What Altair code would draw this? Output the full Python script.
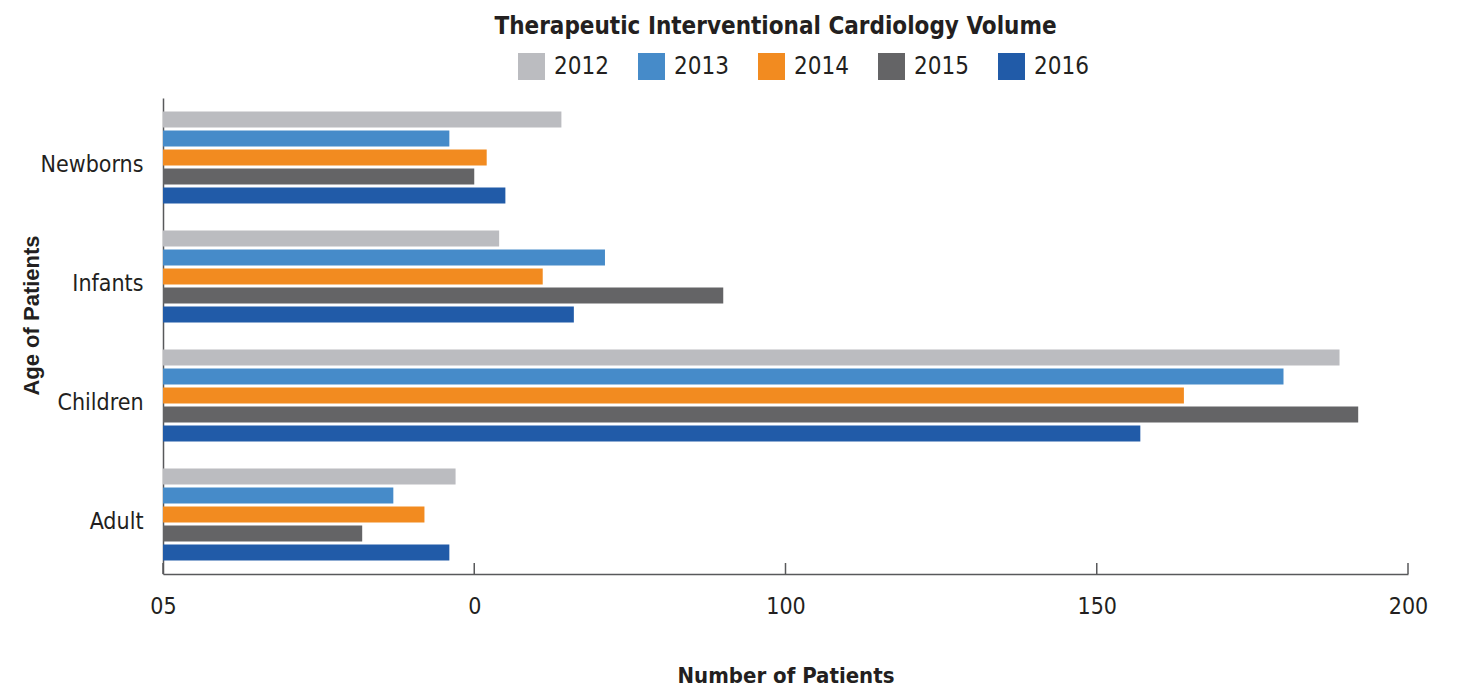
import altair as alt
import pandas as pd

categories = ["Newborns", "Infants", "Children", "Adult"]
years = ["2012", "2013", "2014", "2015", "2016"]
values_2012 = [64, 54, 189, 47]
values_2013 = [46, 71, 180, 37]
values_2014 = [52, 61, 164, 42]
values_2015 = [50, 90, 192, 32]
values_2016 = [55, 66, 157, 46]
colors = ["#BBBCC0", "#468BC9", "#F28B20", "#646466", "#215BA8"]
tick_values = [0, 50, 100, 150, 200]
tick_labels = ["05", "0", "100", "150", "200"]

series = [values_2012, values_2013, values_2014, values_2015, values_2016]
rows = []
for y, vals in zip(years, series):
    for c, v in zip(categories, vals):
        rows.append({"Age": c, "Year": y, "Patients": v})
df = pd.DataFrame(rows)
ticks_df = pd.DataFrame({"t": tick_values})

label_expr = "".join(
    f"datum.value == {v} ? '{l}' : " for v, l in zip(tick_values, tick_labels)
) + "datum.label"

TXT = "#231F20"
NARROW = "'DejaVu Sans Condensed', Roboto, sans-serif"

xscale = alt.Scale(domain=[0, 200], nice=False, zero=True)

bars = alt.Chart(df).mark_bar().encode(
    x=alt.X(
        "Patients:Q",
        scale=xscale,
        axis=alt.Axis(
            values=tick_values,
            labelExpr=label_expr,
            title="Number of Patients",
            grid=False,
            ticks=False,
            labelPadding=21,
            labelFontSize=23,
            labelFont=NARROW,
            labelColor=TXT,
            titleFont=NARROW,
            titleFontSize=22,
            titleFontWeight="bold",
            titleColor=TXT,
            titlePadding=47,
            domainColor="#58595B",
            domainWidth=1.5,
            labelFlush=False,
        ),
    ),
    y=alt.Y(
        "Age:N",
        sort=categories,
        scale=alt.Scale(paddingInner=0.227, paddingOuter=0.1135),
        axis=alt.Axis(
            title="Age of Patients",
            ticks=False,
            labelPadding=20,
            labelOffset=7,
            labelFontSize=23,
            labelFont=NARROW,
            labelColor=TXT,
            titleFont="Liberation Sans",
            titleFontSize=22,
            titleFontWeight="bold",
            titleColor=TXT,
            titlePadding=-3,
            titleY=217,
            domainColor="#58595B",
            domainWidth=1.5,
        ),
    ),
    yOffset=alt.YOffset("Year:N", sort=years, scale=alt.Scale(paddingInner=0.158, paddingOuter=0)),
    color=alt.Color(
        "Year:N",
        sort=years,
        scale=alt.Scale(domain=years, range=colors),
        legend=alt.Legend(
            title=None,
            orient="none",
            legendX=355,
            legendY=-45,
            direction="horizontal",
            columns=5,
            symbolType="square",
            symbolSize=729,
            symbolStrokeWidth=0,
            symbolOpacity=1,
            labelFont=NARROW,
            labelFontSize=24,
            labelColor=TXT,
            labelOffset=9,
            columnPadding=29,
        ),
    ),
)

tick_rules = alt.Chart(ticks_df).mark_rule(color="#58595B", strokeWidth=1.5).encode(
    x=alt.X("t:Q", scale=xscale),
    y=alt.value(465),
    y2=alt.value(476),
)

chart = alt.layer(bars, tick_rules).properties(
    width=1245,
    height=476,
    autosize="none",
    background="white",
    padding={"left": 155, "top": 90, "right": 40, "bottom": 112},
    title=alt.TitleParams(
        "Therapeutic Interventional Cardiology Volume",
        font=NARROW,
        fontSize=24,
        fontWeight="bold",
        color=TXT,
        anchor="middle",
        frame="group",
        offset=14,
        dx=-10,
    ),
).configure_view(stroke="transparent", strokeWidth=0)

chart.save("out.html", embed_options={"renderer": "svg", "actions": False})
